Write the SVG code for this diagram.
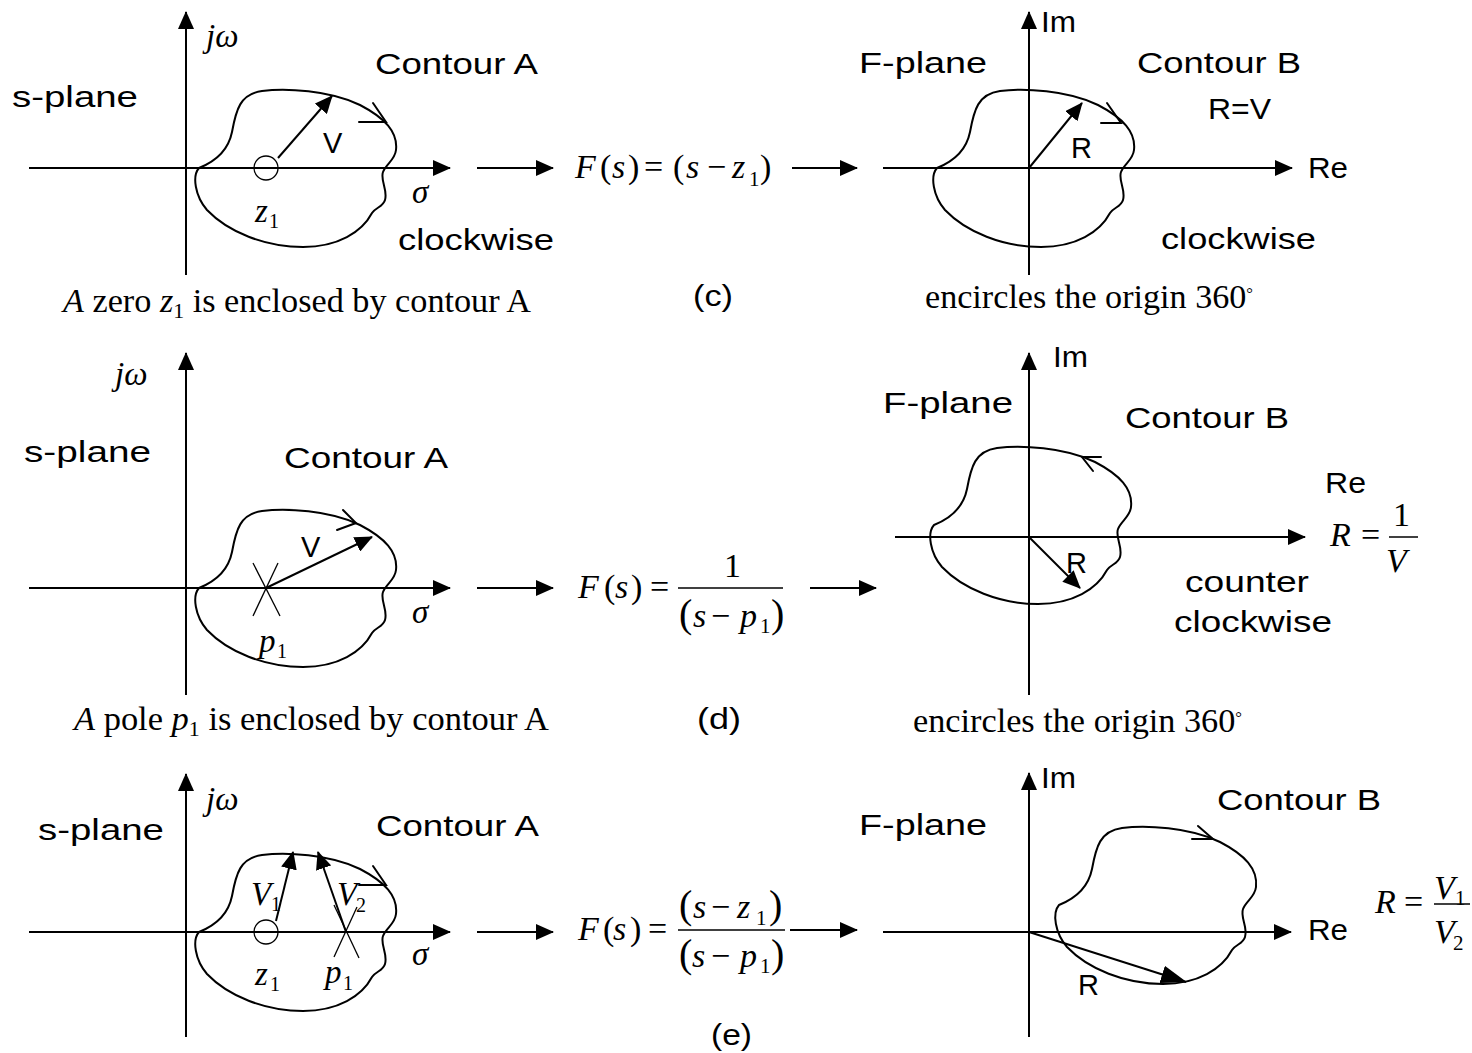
<svg xmlns="http://www.w3.org/2000/svg" xmlns:xlink="http://www.w3.org/1999/xlink" width="1472" height="1053" viewBox="0 0 1472 1053">
<style>
.ax{stroke:#000;stroke-width:2;fill:none}
.vec{stroke:#000;stroke-width:2;fill:none}
.ct{stroke:#000;stroke-width:2;fill:none}
.mk{stroke:#000;stroke-width:2;fill:none;stroke-linecap:round}
.thin{stroke:#000;stroke-width:1.3;fill:none}
.bar{stroke:#000;stroke-width:1.5}
.lb{font-family:"Liberation Sans",Arial,sans-serif;font-size:29px;fill:#000}
.sf{font-family:"Liberation Serif","Times New Roman",serif;font-size:33px;fill:#000}
.sm{font-family:"Liberation Serif","Times New Roman",serif;font-size:34px;fill:#000}
.i{font-style:italic}
</style>
<defs>
<marker id="ah" viewBox="0 0 18 16" refX="17" refY="8" markerWidth="18" markerHeight="16" markerUnits="userSpaceOnUse" orient="auto"><path d="M0,0 L18,8 L0,16 z" fill="#000"/></marker>
<marker id="ahb" viewBox="0 0 26 18" refX="25" refY="9" markerWidth="26" markerHeight="18" markerUnits="userSpaceOnUse" orient="auto"><path d="M0,0 L26,9 L0,18 z" fill="#000"/></marker>
<path id="blob" class="ct" d="M199,168 C214,162 228,152 232,132 C236,110 240,94 262,91 C285,88 330,90 360,105 C385,118 398,132 396,150 C395,160 386,164 383,172 C380,180 388,190 385,200 C383,207 376,207 372,213 C362,232 338,247 303,247 C265,247 228,232 207,210 C195,196 192,176 199,168 Z"/>
</defs>
<rect width="1472" height="1053" fill="#fff"/>

<!-- ===== Row (c) ===== -->
<g id="c-splane">
<line class="ax" x1="186" y1="275" x2="186" y2="12" marker-end="url(#ah)"/>
<line class="ax" x1="29" y1="168" x2="450" y2="168" marker-end="url(#ah)"/>
<use xlink:href="#blob" href="#blob"/>
<polyline class="mk" points="359,122 386,122 373,103"/>
<circle cx="266" cy="168" r="12" class="thin"/>
<line class="vec" x1="278" y1="158" x2="332" y2="96" marker-end="url(#ah)"/>
<text class="sf i" x="206" y="47" font-size="31">jω</text>
<text class="lb" x="12" y="107" textLength="126" lengthAdjust="spacingAndGlyphs">s-plane</text>
<text class="lb" x="375" y="74" textLength="163" lengthAdjust="spacingAndGlyphs">Contour A</text>
<text class="lb" x="323" y="153">V</text>
<text class="sf i" x="412" y="203">σ</text>
<text class="sf" y="222"><tspan class="i" x="255">z</tspan><tspan x="269" y="228" font-size="20">1</tspan></text>
<text class="lb" x="398" y="250" textLength="156" lengthAdjust="spacingAndGlyphs">clockwise</text>
<text class="sf" x="63" y="312" textLength="468" lengthAdjust="spacingAndGlyphs"><tspan class="i">A</tspan> zero <tspan class="i">z</tspan><tspan font-size="21" dy="6">1</tspan><tspan dy="-6"> is enclosed by contour A</tspan></text>
</g>

<g id="c-formula">
<text class="sm" y="178"><tspan x="575" class="i">F</tspan><tspan x="600">(</tspan><tspan x="612" class="i">s</tspan><tspan x="628">)</tspan><tspan x="644">=</tspan><tspan x="673">(</tspan><tspan x="686" class="i">s</tspan><tspan x="707">−</tspan><tspan x="732" class="i">z</tspan><tspan x="749" y="186" font-size="21">1</tspan><tspan x="760" y="178">)</tspan></text>
<text class="lb" x="693" y="306" textLength="40" lengthAdjust="spacingAndGlyphs">(c)</text>
</g>

<g id="c-fplane">
<line class="ax" x1="1029" y1="275" x2="1029" y2="12" marker-end="url(#ah)"/>
<line class="ax" x1="883" y1="168" x2="1292" y2="168" marker-end="url(#ah)"/>
<use xlink:href="#blob" href="#blob" transform="translate(738,0)"/>
<polyline class="mk" points="1101,123 1121,123 1107,103"/>
<line class="vec" x1="1029" y1="168" x2="1082" y2="103" marker-end="url(#ah)"/>
<text class="lb" x="1041" y="32" textLength="35" lengthAdjust="spacingAndGlyphs">Im</text>
<text class="lb" x="859" y="73" textLength="128" lengthAdjust="spacingAndGlyphs">F-plane</text>
<text class="lb" x="1137" y="73" textLength="164" lengthAdjust="spacingAndGlyphs">Contour B</text>
<text class="lb" x="1208" y="119" textLength="63" lengthAdjust="spacingAndGlyphs">R=V</text>
<text class="lb" x="1308" y="178" textLength="40" lengthAdjust="spacingAndGlyphs">Re</text>
<text class="lb" x="1071" y="158">R</text>
<text class="lb" x="1161" y="249" textLength="155" lengthAdjust="spacingAndGlyphs">clockwise</text>
<text class="sf" x="925" y="308" textLength="328" lengthAdjust="spacingAndGlyphs">encircles the origin 360<tspan font-size="16" dy="-9">°</tspan></text>
</g>

<!-- ===== Row (d) ===== -->
<g id="d-splane">
<line class="ax" x1="186" y1="695" x2="186" y2="353" marker-end="url(#ah)"/>
<line class="ax" x1="29" y1="588" x2="450" y2="588" marker-end="url(#ah)"/>
<use xlink:href="#blob" href="#blob" transform="translate(0,420)"/>
<polyline class="mk" points="343,510 356,523 337,530"/>
<line class="thin" x1="253" y1="563" x2="280" y2="616"/>
<line class="thin" x1="278" y1="563" x2="253" y2="616"/>
<line class="vec" x1="266" y1="588" x2="372" y2="537" marker-end="url(#ah)"/>
<text class="sf i" x="115" y="385" font-size="31">jω</text>
<text class="lb" x="24" y="462" textLength="127" lengthAdjust="spacingAndGlyphs">s-plane</text>
<text class="lb" x="284" y="468" textLength="164" lengthAdjust="spacingAndGlyphs">Contour A</text>
<text class="lb" x="301" y="557">V</text>
<text class="sf i" x="412" y="623">σ</text>
<text class="sf" y="652"><tspan class="i" x="259">p</tspan><tspan x="277" y="658" font-size="20">1</tspan></text>
<text class="sf" x="74" y="730" textLength="475" lengthAdjust="spacingAndGlyphs"><tspan class="i">A</tspan> pole <tspan class="i">p</tspan><tspan font-size="21" dy="6">1</tspan><tspan dy="-6"> is enclosed by contour A</tspan></text>
</g>

<g id="d-formula">
<text class="sm" y="598"><tspan x="578" class="i">F</tspan><tspan x="604">(</tspan><tspan x="615" class="i">s</tspan><tspan x="631">)</tspan><tspan x="650">=</tspan></text>
<text class="sm" x="724" y="577">1</text>
<line class="bar" x1="678" y1="588" x2="783" y2="588"/>
<text class="sm" y="627"><tspan x="679" font-size="40">(</tspan><tspan x="693" class="i">s</tspan><tspan x="711">−</tspan><tspan x="740" class="i">p</tspan><tspan x="760" y="633" font-size="21">1</tspan><tspan x="771" y="627" font-size="40">)</tspan></text>
<text class="lb" x="697" y="729" textLength="44" lengthAdjust="spacingAndGlyphs">(d)</text>
</g>

<g id="d-fplane">
<line class="ax" x1="1029" y1="695" x2="1029" y2="353" marker-end="url(#ah)"/>
<line class="ax" x1="895" y1="537" x2="1305" y2="537" marker-end="url(#ah)"/>
<use xlink:href="#blob" href="#blob" transform="translate(735,357)"/>
<polyline class="mk" points="1101,457 1082,457 1093,471"/>
<line class="vec" x1="1029" y1="537" x2="1080" y2="588" marker-end="url(#ah)"/>
<text class="lb" x="1053" y="367" textLength="35" lengthAdjust="spacingAndGlyphs">Im</text>
<text class="lb" x="883" y="413" textLength="130" lengthAdjust="spacingAndGlyphs">F-plane</text>
<text class="lb" x="1125" y="428" textLength="164" lengthAdjust="spacingAndGlyphs">Contour B</text>
<text class="lb" x="1325" y="493" textLength="41" lengthAdjust="spacingAndGlyphs">Re</text>
<text class="lb" x="1066" y="573">R</text>
<text class="lb" x="1185" y="592" textLength="124" lengthAdjust="spacingAndGlyphs">counter</text>
<text class="lb" x="1174" y="632" textLength="158" lengthAdjust="spacingAndGlyphs">clockwise</text>
<text class="sm" y="546"><tspan x="1330" class="i">R</tspan><tspan x="1361">=</tspan></text>
<text class="sm" x="1393" y="526">1</text>
<line class="bar" x1="1389" y1="537" x2="1418" y2="537"/>
<text class="sm i" x="1386" y="572">V</text>
<text class="sf" x="913" y="732" textLength="329" lengthAdjust="spacingAndGlyphs">encircles the origin 360<tspan font-size="16" dy="-9">°</tspan></text>
</g>

<!-- ===== Row (e) ===== -->
<g id="e-splane">
<line class="ax" x1="186" y1="1037" x2="186" y2="774" marker-end="url(#ah)"/>
<line class="ax" x1="29" y1="932" x2="450" y2="932" marker-end="url(#ah)"/>
<use xlink:href="#blob" href="#blob" transform="translate(0,764)"/>
<polyline class="mk" points="359,885 386,885 373,866"/>
<circle cx="266" cy="932" r="12" class="thin"/>
<line class="thin" x1="334" y1="905" x2="359" y2="958"/>
<line class="thin" x1="357" y1="907" x2="334" y2="957"/>
<line class="vec" x1="276" y1="921" x2="293" y2="852" marker-end="url(#ah)"/>
<line class="vec" x1="346" y1="932" x2="318" y2="852" marker-end="url(#ah)"/>
<text class="sf i" x="206" y="810" font-size="31">jω</text>
<text class="lb" x="38" y="840" textLength="126" lengthAdjust="spacingAndGlyphs">s-plane</text>
<text class="lb" x="376" y="836" textLength="163" lengthAdjust="spacingAndGlyphs">Contour A</text>
<text class="sf" y="905"><tspan class="i" x="251">V</tspan><tspan x="271" y="911" font-size="20">1</tspan></text>
<text class="sf" y="905"><tspan class="i" x="337">V</tspan><tspan x="356" y="912" font-size="20">2</tspan></text>
<text class="sf i" x="412" y="965">σ</text>
<text class="sf" y="985"><tspan class="i" x="255">z</tspan><tspan x="270" y="991" font-size="20">1</tspan></text>
<text class="sf" y="983"><tspan class="i" x="325">p</tspan><tspan x="343" y="990" font-size="20">1</tspan></text>
</g>

<g id="e-formula">
<text class="sm" y="940"><tspan x="578" class="i">F</tspan><tspan x="603">(</tspan><tspan x="613" class="i">s</tspan><tspan x="630">)</tspan><tspan x="648">=</tspan></text>
<text class="sm" y="918"><tspan x="679" font-size="40">(</tspan><tspan x="693" class="i">s</tspan><tspan x="711">−</tspan><tspan x="737" class="i">z</tspan><tspan x="756" y="925" font-size="21">1</tspan><tspan x="769" y="918" font-size="40">)</tspan></text>
<line class="bar" x1="678" y1="930" x2="785" y2="930"/>
<text class="sm" y="967"><tspan x="679" font-size="40">(</tspan><tspan x="692" class="i">s</tspan><tspan x="711">−</tspan><tspan x="740" class="i">p</tspan><tspan x="760" y="973" font-size="21">1</tspan><tspan x="771" y="967" font-size="40">)</tspan></text>
<text class="lb" x="711" y="1045" textLength="41" lengthAdjust="spacingAndGlyphs">(e)</text>
</g>

<g id="e-fplane">
<line class="ax" x1="1029" y1="1037" x2="1029" y2="773" marker-end="url(#ah)"/>
<line class="ax" x1="883" y1="932" x2="1291" y2="932" marker-end="url(#ah)"/>
<use xlink:href="#blob" href="#blob" transform="translate(860,737)"/>
<polyline class="mk" points="1192,839 1213,839 1198,826"/>
<line class="vec" x1="1029" y1="932" x2="1186" y2="982" marker-end="url(#ahb)"/>
<text class="lb" x="1041" y="788" textLength="35" lengthAdjust="spacingAndGlyphs">Im</text>
<text class="lb" x="859" y="835" textLength="128" lengthAdjust="spacingAndGlyphs">F-plane</text>
<text class="lb" x="1217" y="810" textLength="164" lengthAdjust="spacingAndGlyphs">Contour B</text>
<text class="lb" x="1308" y="940" textLength="40" lengthAdjust="spacingAndGlyphs">Re</text>
<text class="lb" x="1078" y="995">R</text>
<text class="sm" y="913"><tspan x="1375" class="i">R</tspan><tspan x="1404">=</tspan></text>
<line class="bar" x1="1434" y1="904" x2="1470" y2="904"/>
<text class="sm" y="899"><tspan x="1434" class="i">V</tspan><tspan x="1455" y="905" font-size="21">1</tspan></text>
<text class="sm" y="943"><tspan x="1434" class="i">V</tspan><tspan x="1453" y="950" font-size="21">2</tspan></text>
</g>

<!-- ===== connectors between planes and mappings ===== -->
<g id="connectors">
<line class="ax" x1="477" y1="168" x2="553" y2="168" marker-end="url(#ah)"/>
<line class="ax" x1="792" y1="168" x2="857" y2="168" marker-end="url(#ah)"/>
<line class="ax" x1="477" y1="588" x2="553" y2="588" marker-end="url(#ah)"/>
<line class="ax" x1="810" y1="588" x2="876" y2="588" marker-end="url(#ah)"/>
<line class="ax" x1="477" y1="932" x2="553" y2="932" marker-end="url(#ah)"/>
<line class="ax" x1="790" y1="930" x2="857" y2="930" marker-end="url(#ah)"/>
</g>
</svg>
